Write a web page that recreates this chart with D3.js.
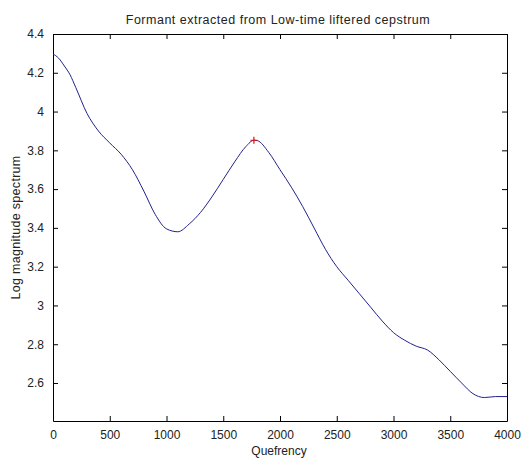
<!DOCTYPE html>
<html>
<head>
<meta charset="utf-8">
<script src="https://cdn.jsdelivr.net/npm/d3@7"></script>
<style>
  body { margin: 0; background: #fff; }
  svg { font-family: "Liberation Sans", Arial, sans-serif; }
</style>
</head>
<body>
<div id="chart"></div>
<script>
// quefrency samples and log magnitude
const quefrency = [0, 50, 100, 150, 200, 300, 400, 500, 600, 700, 800, 900, 1000, 1100, 1200, 1300, 1400, 1500,
  1600, 1700, 1770, 1800, 1900, 2000, 2100, 2200, 2300, 2400, 2500, 2600, 2700, 2800, 2900, 3000,
  3100, 3200, 3300, 3400, 3500, 3600, 3700, 3800, 3900, 4000];
const logMag = [4.297, 4.275, 4.235, 4.19, 4.125, 3.99, 3.9, 3.838, 3.78, 3.70, 3.59, 3.47, 3.395, 3.38, 3.42, 3.48, 3.56, 3.65,
  3.74, 3.82, 3.852, 3.85, 3.79, 3.70, 3.61, 3.51, 3.40, 3.29, 3.20, 3.13, 3.06, 2.99, 2.92, 2.86,
  2.82, 2.79, 2.77, 2.72, 2.66, 2.60, 2.545, 2.525, 2.53, 2.53];
const peak = [1770, 3.852];
const xTicks = [0, 500, 1000, 1500, 2000, 2500, 3000, 3500, 4000];
const yTicks = [2.6, 2.8, 3, 3.2, 3.4, 3.6, 3.8, 4, 4.2, 4.4];

const W = 521, H = 461;
const m = {top: 34, right: 14, bottom: 40, left: 53};

const svg = d3.select("#chart").append("svg").attr("width", W).attr("height", H);

const x = d3.scaleLinear().domain([0, 4000]).range([m.left, W - m.right]);
const y = d3.scaleLinear().domain([2.404, 4.4]).range([H - m.bottom, m.top]);

// axes (ticks inward, box on all sides)
const tk = 5;
svg.append("g").attr("transform", `translate(0,${H - m.bottom})`)
  .call(d3.axisBottom(x).tickValues(xTicks).tickSizeInner(-tk).tickSizeOuter(0).tickPadding(9).tickFormat(d3.format("d")));
svg.append("g").attr("transform", `translate(0,${m.top})`)
  .call(d3.axisTop(x).tickValues(xTicks).tickSizeInner(-tk).tickSizeOuter(0).tickFormat(""));
svg.append("g").attr("transform", `translate(${m.left},0)`)
  .call(d3.axisLeft(y).tickValues(yTicks).tickSizeInner(-tk).tickSizeOuter(0).tickPadding(9).tickFormat(d => d3.format("")(+d.toFixed(1))));
svg.append("g").attr("transform", `translate(${W - m.right},0)`)
  .call(d3.axisRight(y).tickValues(yTicks).tickSizeInner(-tk).tickSizeOuter(0).tickFormat(""));

svg.selectAll(".domain").attr("stroke", "#000");
svg.selectAll(".tick line").attr("stroke", "#000");
svg.selectAll(".tick text").attr("font-size", 12).attr("fill", "#222")
  .attr("font-family", "Liberation Sans, Arial, sans-serif");

// curve
const line = d3.line().x((d, i) => x(quefrency[i])).y(d => y(d)).curve(d3.curveMonotoneX);
svg.append("path").datum(logMag)
  .attr("d", line).attr("fill", "none").attr("stroke", "#22228c").attr("stroke-width", 1);

// peak marker
const px = x(peak[0]), py = y(peak[1]);
svg.append("path")
  .attr("d", `M${px - 3.5},${py}H${px + 3.5}M${px},${py - 3.5}V${py + 3.5}`)
  .attr("stroke", "#e01010").attr("stroke-width", 1.2);

// labels
svg.append("text").attr("x", (m.left + W - m.right) / 2 - 2).attr("y", 24)
  .attr("text-anchor", "middle").attr("font-size", 12.5).attr("letter-spacing", 0.5).attr("fill", "#222")
  .text("Formant extracted from Low-time liftered cepstrum");
svg.append("text").attr("x", (m.left + W - m.right) / 2 - 1).attr("y", 455)
  .attr("text-anchor", "middle").attr("font-size", 12).attr("fill", "#222")
  .text("Quefrency");
svg.append("text").attr("transform", `translate(20,${(m.top + H - m.bottom) / 2}) rotate(-90)`)
  .attr("text-anchor", "middle").attr("font-size", 12.5).attr("letter-spacing", 0.3).attr("fill", "#222")
  .text("Log magnitude spectrum");
</script>
</body>
</html>
